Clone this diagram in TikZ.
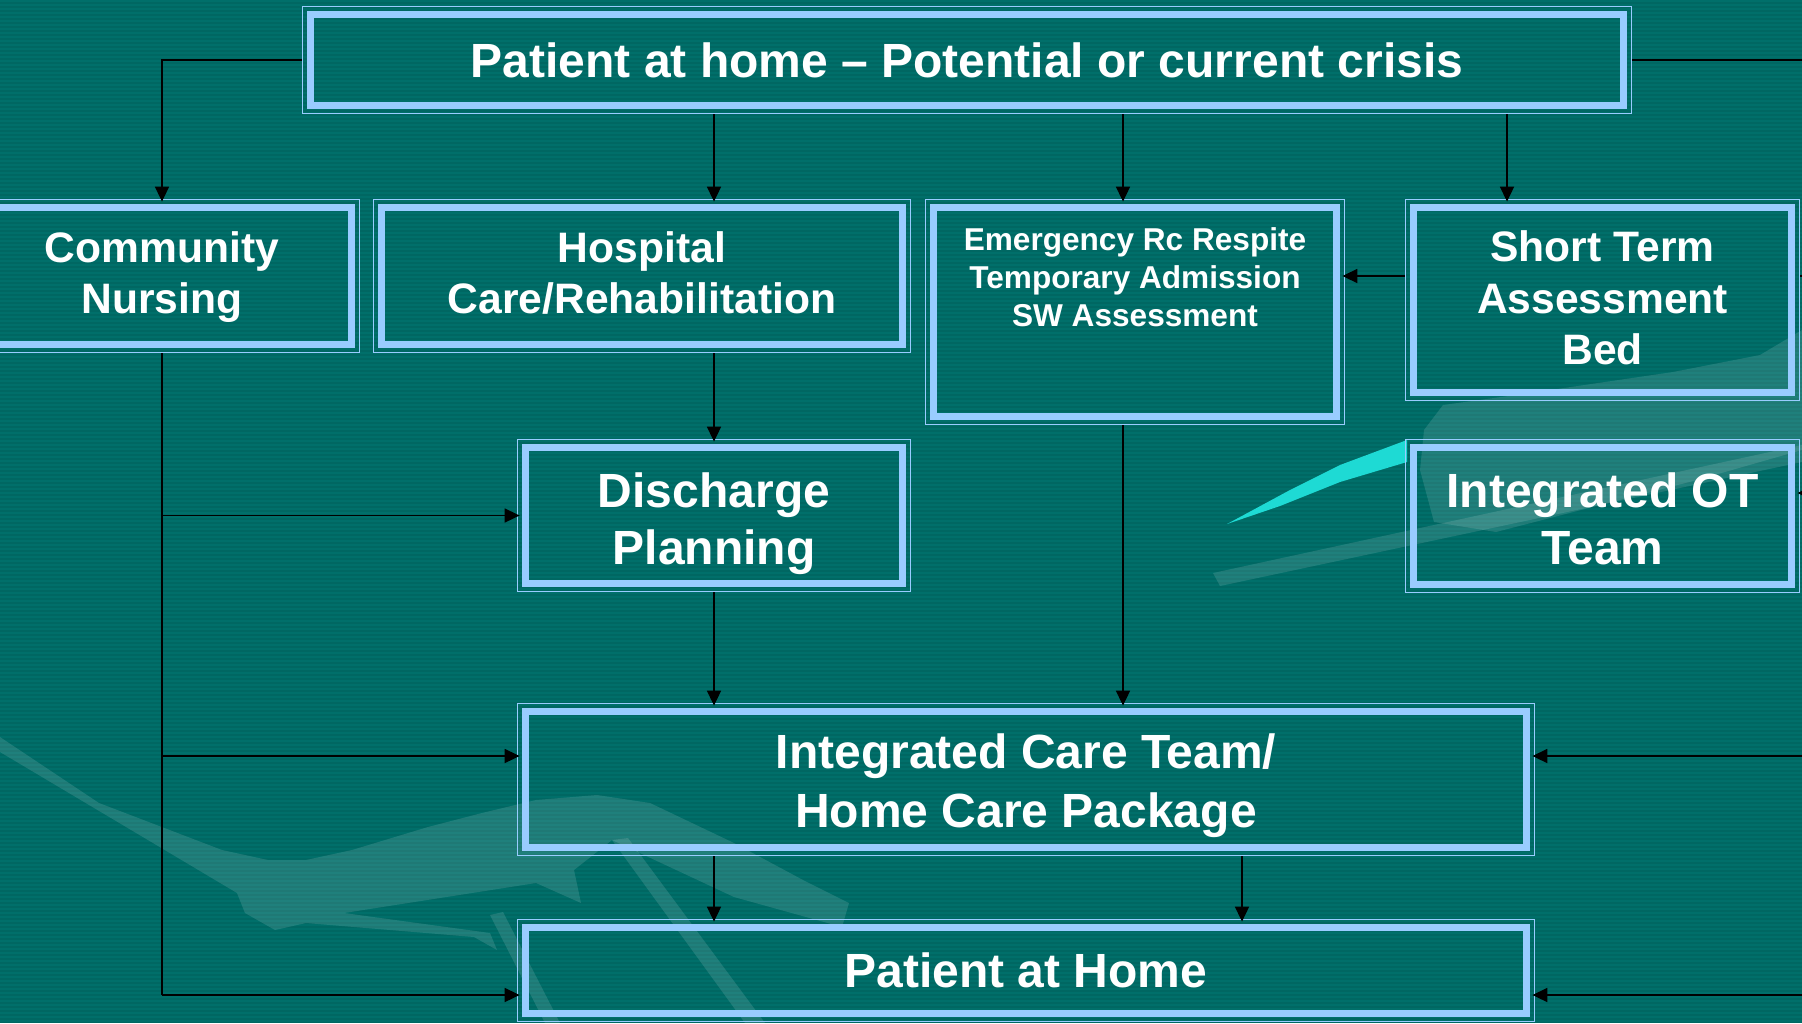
\documentclass[tikz,border=0pt]{standalone}
\usepackage{fontspec}
\setmainfont{Liberation Sans}
\usetikzlibrary{arrows.meta}
\definecolor{bg}{RGB}{0,103,98}
\definecolor{stripe}{RGB}{0,111,106}
\definecolor{band}{RGB}{153,204,255}
\definecolor{wedge}{RGB}{30,218,212}
\begin{document}
\begin{tikzpicture}[x=0.5pt,y=-0.5pt,
  box/.style={rectangle, inner sep=0pt, draw=none},
  txt/.style={inner sep=0pt, text=white, align=center},
  sz/.style 2 args={minimum width=#1*0.5pt, minimum height=#2*0.5pt},
  thinframe/.style={draw=band, line width=0.75pt},
  bandframe/.style={draw=band, line width=3.5pt},
  conn/.style={draw=black, line width=0.85pt, shorten >=-1.5pt, -{Triangle[length=7.5pt,width=7pt]}},
  plain/.style={draw=black, line width=0.85pt},
  big/.style={font=\fontsize{24}{28.5}\selectfont\bfseries},
  mid/.style={font=\fontsize{21.3}{25.8}\selectfont\bfseries},
  small/.style={font=\fontsize{15.8}{19}\selectfont\bfseries},
  deco/.style={fill=white, opacity=0.12}
]
\useasboundingbox (0,0) rectangle (1802,1023);
\clip (0,0) rectangle (1802,1023);
% background
\fill[bg] (0,0) rectangle (1802,1023);
\foreach \i in {0,...,255} \fill[stripe] (0,\i*4) rectangle (1802,\i*4+2);
% decorations
\fill[deco] (1443,405) -- (1530,393) -- (1673,372) -- (1760,355) -- (1802,330) -- (1802,450) -- (1697,480) -- (1496,532) -- (1434,522) -- (1420,470) -- (1424,430) -- cycle;
\fill[deco] (1213,573) -- (1802,445) -- (1802,462) -- (1220,586) -- cycle;
\fill[deco] (0,737) -- (99,803) -- (222,850) -- (268,860) -- (306,860) -- (352,850) -- (428,827) -- (482,813) -- (536,800) -- (597,795) -- (650,803) -- (734,843) -- (803,880) -- (849,903) -- (842,927) -- (734,897) -- (612,840) -- (574,870) -- (581,903) -- (536,883) -- (344,913) -- (490,933) -- (497,950) -- (474,937) -- (306,923) -- (275,930) -- (245,913) -- (237,893) -- (0,752) -- cycle;
\fill[deco] (612,840) -- (628,838) -- (765,1023) -- (745,1023) -- cycle;
\fill[deco] (490,915) -- (503,912) -- (560,1023) -- (545,1023) -- cycle;
\fill[wedge] (1227,524) -- (1290,490) -- (1340,465) -- (1407,440) -- (1407,462) -- (1340,482) -- (1280,506) -- cycle;
% boxes
\node[box, sz={1330}{108}] (top) at (967,60) {};
\node[box, sz={396}{154}] (cn) at (162,276) {};
\node[box, sz={538}{154}] (hosp) at (642,276) {};
\node[box, sz={420}{226}] (emer) at (1135,312) {};
\node[box, sz={395}{202}] (stb) at (1602.5,300) {};
\node[box, sz={395}{154}] (ot) at (1602.5,516) {};
\node[box, sz={394}{153}] (dp) at (714,515.5) {};
\node[box, sz={1018}{153}] (ict) at (1026,779.5) {};
\node[box, sz={1018}{103}] (pah) at (1026,970.5) {};
% texts
\node[txt, big] (topT) at (967,60) {Patient at home -- Potential or current crisis};
\node[txt, mid] (cnT) at (162,277) {Community\\Nursing};
\node[txt, mid] (hospT) at (642,273) {Hospital\\Care/Rehabilitation};
\node[txt, small] (emerT) at (1135,277) {Emergency Rc Respite\\Temporary Admission\\SW Assessment};
\node[txt, mid] (stbT) at (1602.5,298) {Short Term\\Assessment\\Bed};
\node[txt, big] (otT) at (1602.5,519) {Integrated OT\\Team};
\node[txt, big] (dpT) at (714,523.5) {Discharge\\Planning};
\node[txt, font=\fontsize{24}{29.5}\selectfont\bfseries] (ictT) at (1026,785.5) {Integrated Care Team/\\Home Care Package};
\node[txt, big] (pahT) at (1026,970.5) {Patient at Home};
% frames
\foreach \n in {top,cn,hosp,emer,stb,ot,dp,ict,pah}{
  \draw[thinframe] ([shift={(0.4pt,0.4pt)}]\n.south west) rectangle ([shift={(-0.4pt,-0.4pt)}]\n.north east);
  \draw[bandframe] ([shift={(4.25pt,4.25pt)}]\n.south west) rectangle ([shift={(-4.25pt,-4.25pt)}]\n.north east);
}
% helper coordinates
\coordinate (xE) at (1123,0);
\coordinate (xS) at (1507,0);
\coordinate (xR) at (1242,0);
\coordinate (busR) at (1860,0);
\coordinate (yST) at (0,276);
\coordinate (yOT) at (0,493);
\coordinate (yI) at (0,756);
\coordinate (yP) at (0,995);
% connectors
\draw[conn] (top.west) -| (cn.north);
\draw[conn] (top.south -| dp) -- (hosp.north -| dp);
\draw[conn] (top.south -| xE) -- (emer.north -| xE);
\draw[conn] (top.south -| xS) -- (stb.north -| xS);
\draw[plain] (top.east) -- (top.east -| busR);
\draw[conn] (stb.west |- yST) -- (emer.east |- yST);
\draw[plain] (stb.east |- yST) -- (busR |- yST);
\draw[conn] (busR |- yOT) -- (ot.east |- yOT);
\draw[conn] (busR |- yI) -- (ict.east |- yI);
\draw[conn] (busR |- yP) -- (pah.east |- yP);
\draw[conn] (hosp.south -| dp) -- (dp.north);
\draw[conn] (dp.south) -- (ict.north -| dp);
\draw[conn] (emer.south -| xE) -- (ict.north -| xE);
\draw[conn] (ict.south -| dp) -- (pah.north -| dp);
\draw[conn] (ict.south -| xR) -- (pah.north -| xR);
\draw[plain] (cn.south) -- (cn.south |- yP);
\draw[conn] (cn.south |- dp.west) -- (dp.west);
\draw[conn] (cn.south |- yI) -- (ict.west |- yI);
\draw[conn] (cn.south |- yP) -- (pah.west |- yP);
\end{tikzpicture}
\end{document}
